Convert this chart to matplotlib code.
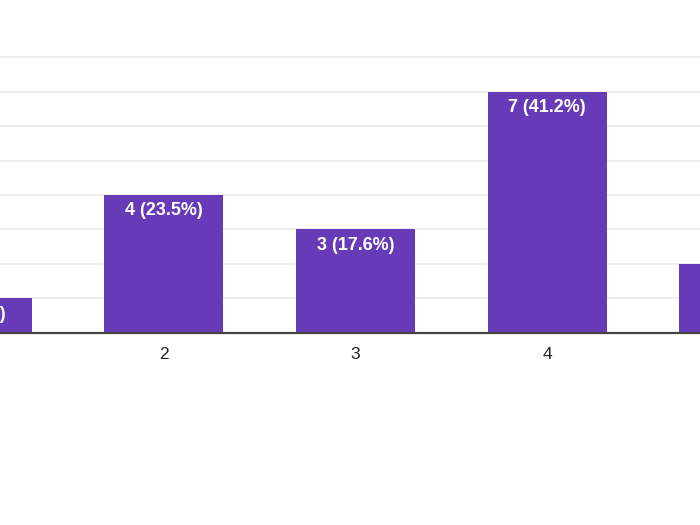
import matplotlib
matplotlib.use('Agg')
import matplotlib.pyplot as plt

# survey answers (rating 1-5), 17 responses in total
ratings = [1, 2, 3, 4, 5]
counts = [1, 4, 3, 7, 2]
total = sum(counts)
labels = ['%d (%.1f%%)' % (c, 100.0 * c / total) for c in counts]

bar_color = '#673ab7'
grid_color = '#ebebeb'

fig = plt.figure(figsize=(7, 5.25), dpi=100)
ax = fig.add_axes([0, 0, 1, 1])

ax.bar(ratings, counts, width=0.62, color=bar_color, zorder=2)

# value labels inside the top of each bar
for x, c, lab in zip(ratings, counts, labels):
    ax.text(x, c - 0.46, lab, ha='center', va='center', color='white',
            fontsize=12.9, fontweight='bold', family='Liberation Sans', zorder=3)

# category labels under the baseline
for x in ratings:
    ax.text(x, -0.63, str(x), ha='center', va='center', color='#222222',
            fontsize=12.5, family='Liberation Sans')

ax.set_yticks(range(1, 9))
ax.yaxis.grid(True, color=grid_color, linewidth=1.2, zorder=0)
ax.axhline(0, color='#444444', linewidth=1.6, zorder=4)

# the picture is a crop of a wider chart
ax.set_xlim(1.1455, 4.797)
ax.set_ylim(-5.59, 9.67)

ax.tick_params(left=False, bottom=False, labelleft=False, labelbottom=False)
for s in ax.spines.values():
    s.set_visible(False)

fig.savefig('out.png', dpi=100, facecolor='white')
